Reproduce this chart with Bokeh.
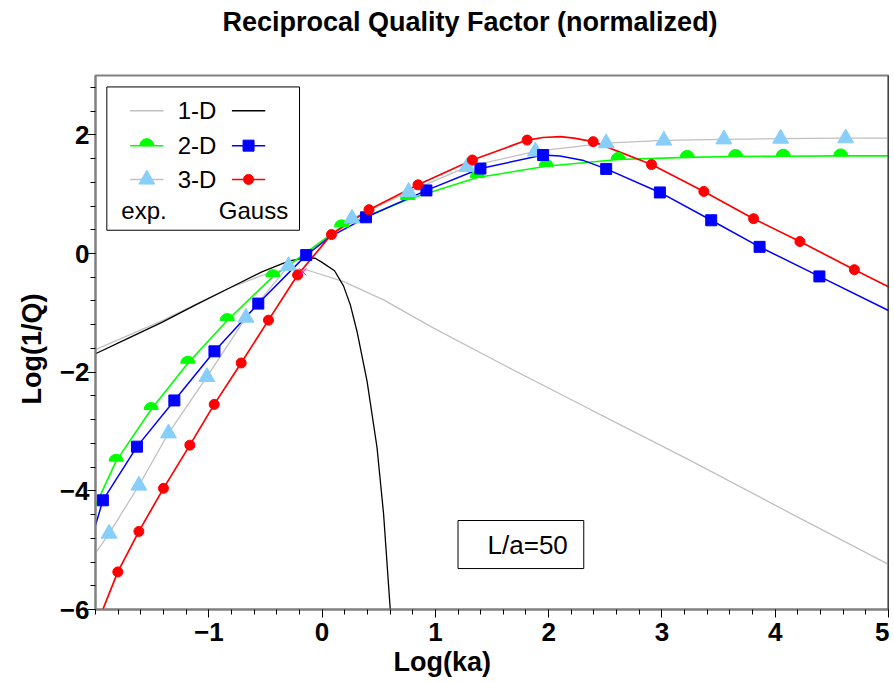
import numpy as np
from bokeh.plotting import figure
from bokeh.models import FixedTicker, Span, Range1d, Title
from bokeh.core.properties import value
from bokeh.embed import file_html
from bokeh.resources import INLINE

# ---------------- data ----------------
# 1-D, exponential correlation (light gray line)
x1_exp = [-2.0, -1.71, -1.41, -1.12, -0.83, -0.53, -0.40, -0.28, -0.133, 0.19, 0.543, 0.985, 1.574, 2.369, 3.253, 4.136, 5.0]
y1_exp = [-1.62, -1.38, -1.13, -0.86, -0.59, -0.37, -0.30, -0.26, -0.278, -0.475, -0.782, -1.257, -1.85, -2.63, -3.49, -4.38, -5.24]

# 1-D, Gaussian correlation (black line)
x1_gau = [-2.0, -1.709, -1.414, -1.12, -0.826, -0.531, -0.296, -0.15, -0.06, 0.0, 0.11, 0.19, 0.25, 0.308, 0.397, 0.485, 0.543, 0.602]
y1_gau = [-1.69, -1.425, -1.162, -0.87, -0.59, -0.31, -0.13, -0.075, -0.08, -0.15, -0.29, -0.55, -0.87, -1.31, -2.15, -3.27, -4.39, -6.0]

# 2-D, exponential (green line, half-disc markers)
x2_exp = [-2.0, -1.818, -1.509, -1.185, -0.837, -0.434, -0.13, 0.172, 0.755, 1.371, 1.978, 2.614, 3.223, 3.650, 4.071, 4.578, 5.0]
y2_exp = [-4.25, -3.50, -2.63, -1.85, -1.13, -0.39, 0.03, 0.45, 0.91, 1.28, 1.47, 1.585, 1.62, 1.635, 1.64, 1.645, 1.645]
mx2_exp = [-1.818, -1.509, -1.185, -0.837, -0.434, 0.172, 0.755, 1.371, 1.978, 2.614, 3.223, 3.650, 4.071, 4.578]
my2_exp = [-3.50, -2.63, -1.85, -1.13, -0.39, 0.45, 0.91, 1.28, 1.47, 1.585, 1.62, 1.635, 1.64, 1.645]

# 2-D, Gaussian (blue line, square markers)
x2_gau = [-2.0, -1.935, -1.634, -1.304, -0.950, -0.563, -0.140, 0.07, 0.388, 0.921, 1.398, 1.951, 2.10, 2.31, 2.508, 2.982, 3.435, 3.862, 4.390, 5.0]
y2_gau = [-4.58, -4.16, -3.255, -2.477, -1.649, -0.844, -0.027, 0.28, 0.610, 1.063, 1.432, 1.660, 1.643, 1.566, 1.426, 1.029, 0.560, 0.112, -0.386, -0.961]
mx2_gau = [-1.935, -1.634, -1.304, -0.950, -0.563, -0.140, 0.388, 0.921, 1.398, 1.951, 2.508, 2.982, 3.435, 3.862, 4.390]
my2_gau = [-4.16, -3.255, -2.477, -1.649, -0.844, -0.027, 0.610, 1.063, 1.432, 1.660, 1.426, 1.029, 0.560, 0.112, -0.386]

# 3-D, exponential (light gray line, light-blue triangles)
x3_exp = [-2.0, -1.880, -1.617, -1.356, -1.017, -0.672, -0.296, 0.264, 0.764, 1.280, 1.883, 2.508, 3.017, 3.547, 4.048, 4.622, 5.0]
y3_exp = [-5.05, -4.72, -3.91, -3.03, -2.08, -1.08, -0.21, 0.59, 1.04, 1.46, 1.72, 1.86, 1.905, 1.925, 1.937, 1.943, 1.945]
mx3_exp = [-1.880, -1.617, -1.356, -1.017, -0.672, -0.296, 0.264, 0.764, 1.280, 1.883, 2.508, 3.017, 3.547, 4.048, 4.622]
my3_exp = [-4.72, -3.91, -3.03, -2.08, -1.08, -0.21, 0.59, 1.04, 1.46, 1.72, 1.86, 1.905, 1.925, 1.937, 1.943]

# 3-D, Gaussian (red line, circle markers)
x3_gau = [-2.0, -1.803, -1.617, -1.400, -1.167, -0.952, -0.714, -0.473, -0.216, 0.083, 0.414, 0.847, 1.327, 1.810, 1.95, 2.104, 2.222, 2.393, 2.908, 3.370, 3.809, 4.218, 4.699, 5.0]
y3_gau = [-6.31, -5.366, -4.684, -3.958, -3.230, -2.543, -1.845, -1.123, -0.363, 0.319, 0.738, 1.157, 1.576, 1.912, 1.955, 1.969, 1.945, 1.885, 1.499, 1.046, 0.587, 0.201, -0.273, -0.559]
mx3_gau = [-1.803, -1.617, -1.400, -1.167, -0.952, -0.714, -0.473, -0.216, 0.083, 0.414, 0.847, 1.327, 1.810, 2.393, 2.908, 3.370, 3.809, 4.218, 4.699]
my3_gau = [-5.366, -4.684, -3.958, -3.230, -2.543, -1.845, -1.123, -0.363, 0.319, 0.738, 1.157, 1.576, 1.912, 1.885, 1.499, 1.046, 0.587, 0.201, -0.273]

# small magenta cross near the crossing point
x_cross = [-0.17]
y_cross = [-0.31]

x_ticks = [-1, 0, 1, 2, 3, 4, 5]
y_ticks = [-6, -4, -2, 0, 2]
legend_dims = ["1-D", "2-D", "3-D"]
legend_cols = ["exp.", "Gauss"]
note_text = "L/a=50"
title_text = "Reciprocal Quality Factor (normalized)"
x_label = "Log(ka)"
y_label = "Log(1/Q)"

# ---------------- layout / style ----------------
X_RANGE = (-2.0, 5.0)
Y_RANGE = (-6.0, 3.0)
GREEN, BLUE, RED, LGRAY, TRI = "#00FF00", "#0000FF", "#FF0000", "#C0C0C0", "#87CEFA"
FONT = "Liberation Sans"

p = figure(width=889, height=680, x_range=Range1d(*X_RANGE), y_range=Range1d(*Y_RANGE),
           output_backend="svg", toolbar_location=None, title=None,
           min_border_left=95, min_border_right=1, min_border_top=73, min_border_bottom=71)

# spacer panel next to the frame, then the real title above it
p.add_layout(Title(text=" ", text_font_size="10px", standoff=21), "above")
p.add_layout(Title(text=title_text, text_font=FONT, text_font_size="27px", text_font_style="bold",
                   text_color="black", align="left", offset=127, standoff=9), "above")

p.xgrid.visible = False
p.ygrid.visible = False
p.outline_line_color = "#808080"
p.outline_line_width = 2
p.background_fill_color = "white"
p.border_fill_color = "white"

minus = "\u2212"
def fmt(v):
    return (minus + str(-v)) if v < 0 else str(v)

p.xaxis.ticker = FixedTicker(ticks=x_ticks, minor_ticks=[round(v, 2) for v in np.arange(-2.0, 5.01, 0.2)])
p.yaxis.ticker = FixedTicker(ticks=y_ticks, minor_ticks=[round(v, 2) for v in np.arange(-6.0, 3.01, 0.4)])
p.xaxis.major_label_overrides = {v: fmt(v) for v in x_ticks}
p.yaxis.major_label_overrides = {v: fmt(v) for v in y_ticks}

for ax in (p.xaxis, p.yaxis):
    ax.axis_line_color = "#808080"
    ax.axis_line_width = 2
    ax.major_tick_line_color = "black"
    ax.minor_tick_line_color = "black"
    ax.major_tick_in = 0
    ax.minor_tick_in = 0
    ax.major_tick_out = 8
    ax.minor_tick_out = 5
    ax.major_label_text_font = FONT
    ax.major_label_text_font_style = "bold"
    ax.major_label_text_font_size = "26px"
    ax.major_label_text_color = "black"

p.xaxis.major_label_standoff = 5
p.yaxis.major_label_standoff = -2

# axis titles as extra title panels, placed off-centre as in the original
p.add_layout(Title(text=x_label, text_font=FONT, text_font_size="27px", text_font_style="bold",
                   text_color="black", align="left", offset=298, standoff=3), "below")
p.add_layout(Title(text=y_label, text_font=FONT, text_font_size="27px", text_font_style="bold",
                   text_color="black", align="left", offset=205, standoff=20), "left")

p.add_layout(Span(location=X_RANGE[1], dimension="height", line_color="black", line_width=1.5))

# curves
p.line(x1_exp, y1_exp, line_color=LGRAY, line_width=1.3)
p.line(x3_exp, y3_exp, line_color=LGRAY, line_width=1.3)
p.line(x1_gau, y1_gau, line_color="black", line_width=1.3)
p.line(x2_exp, y2_exp, line_color=GREEN, line_width=1.6)
p.line(x2_gau, y2_gau, line_color=BLUE, line_width=1.5)
p.line(x3_gau, y3_gau, line_color=RED, line_width=1.7)

# markers
p.wedge(mx2_exp, my2_exp, radius=7, radius_units="screen", start_angle=0, end_angle=np.pi,
        fill_color=GREEN, line_color=GREEN)
p.scatter(mx3_exp, my3_exp, marker="triangle", size=16, fill_color=TRI, line_color=TRI)
p.scatter(mx2_gau, my2_gau, marker="square", size=11, fill_color=BLUE, line_color=BLUE)
p.scatter(mx3_gau, my3_gau, marker="circle", size=10, fill_color=RED, line_color=RED)
p.scatter(x_cross, y_cross, marker="x", size=10, line_color="magenta", line_width=1)

# ---------------- legend (hand-built, positions are layout constants) ----------------
LEG_BOX = dict(left=-1.90, right=-0.199, bottom=0.392, top=2.807)
LEG_ROWS = [2.405, 1.818, 1.248, 0.728]
LEG_L = (-1.694, -1.400)
LEG_R = (-0.796, -0.502)
LEG_TXT_X = -1.104
LEG_COL_X = [-1.572, -0.605]

p.quad(**{k: [v] for k, v in LEG_BOX.items()}, fill_color="white", line_color="black", line_width=1)
row_y = LEG_ROWS[:3]
left_colors = [LGRAY, GREEN, LGRAY]
right_colors = ["black", BLUE, RED]
p.segment(x0=[LEG_L[0]] * 3, x1=[LEG_L[1]] * 3, y0=row_y, y1=row_y, line_color=left_colors, line_width=1.5)
p.segment(x0=[LEG_R[0]] * 3, x1=[LEG_R[1]] * 3, y0=row_y, y1=row_y, line_color=right_colors, line_width=1.5)
lmid = (LEG_L[0] + LEG_L[1]) / 2
rmid = (LEG_R[0] + LEG_R[1]) / 2
p.wedge([lmid], [row_y[1]], radius=7, radius_units="screen", start_angle=0, end_angle=np.pi,
        fill_color=GREEN, line_color=GREEN)
p.scatter([lmid], [row_y[2]], marker="triangle", size=16, fill_color=TRI, line_color=TRI)
p.scatter([rmid], [row_y[1]], marker="square", size=11, fill_color=BLUE, line_color=BLUE)
p.scatter([rmid], [row_y[2]], marker="circle", size=10, fill_color=RED, line_color=RED)
p.text(x=[LEG_TXT_X] * 3, y=row_y, text=legend_dims, text_align="center", text_baseline="middle",
       text_font=value(FONT), text_font_size="24px", text_color="black")
p.text(x=LEG_COL_X, y=[LEG_ROWS[3]] * 2, text=legend_cols, text_align="center", text_baseline="middle",
       text_font=value(FONT), text_font_size="24px", text_color="black")

# ---------------- annotation box ----------------
NOTE_BOX = dict(left=1.20, right=2.31, bottom=-5.31, top=-4.50)
p.quad(**{k: [v] for k, v in NOTE_BOX.items()}, fill_color="white", line_color="black", line_width=1)
p.text(x=[(NOTE_BOX["left"] + NOTE_BOX["right"]) / 2 + 0.06], y=[(NOTE_BOX["bottom"] + NOTE_BOX["top"]) / 2],
       text=[note_text], text_align="center", text_baseline="middle",
       text_font=value(FONT), text_font_size="26px", text_color="black")

open("out.html", "w").write(file_html(p, INLINE))
